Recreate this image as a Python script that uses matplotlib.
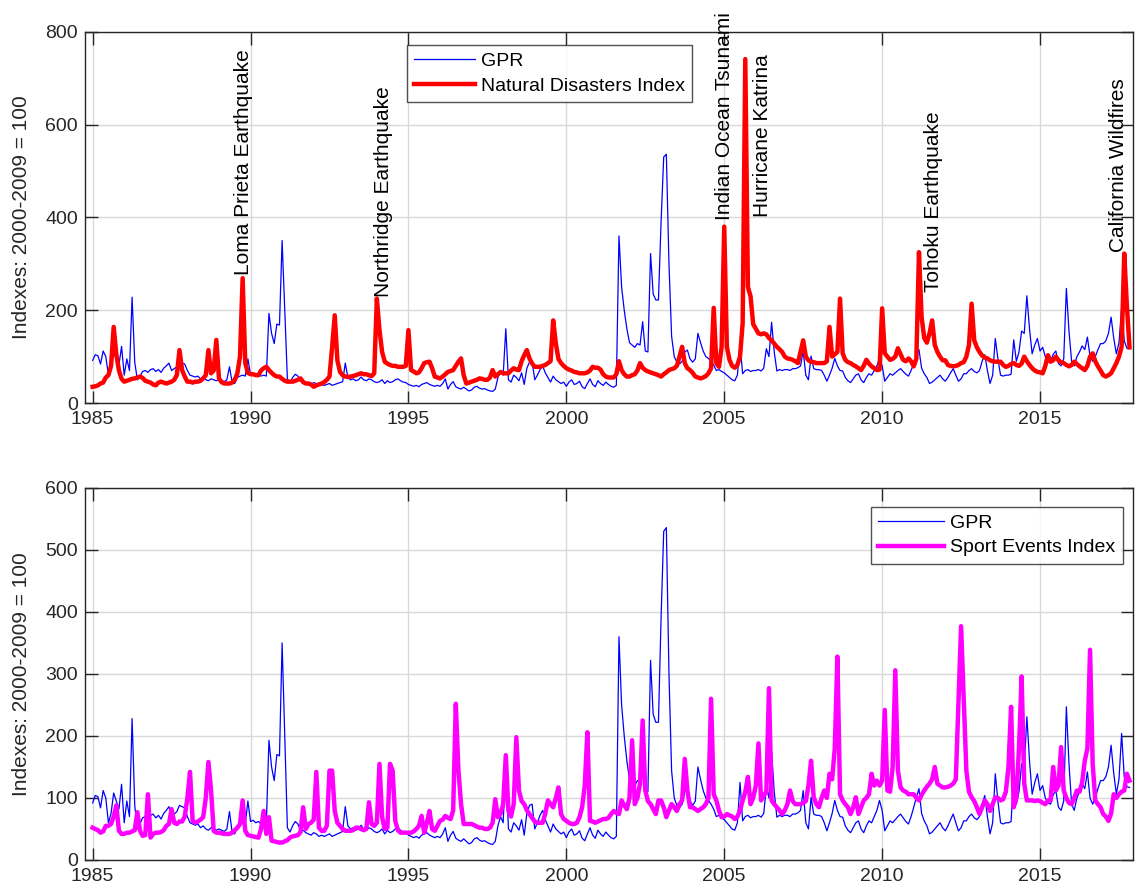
import numpy as np
import matplotlib
matplotlib.use("Agg")
import matplotlib.pyplot as plt

plt.rcParams['font.family'] = ['Liberation Sans', 'DejaVu Sans']

# monthly values, Jan 1985 - Nov 2017
gpr = [
    92, 104, 102, 84, 112, 100, 60, 75, 108, 95, 82, 122,      # 1985
    60, 95, 70, 228, 88, 50, 58, 68, 70, 66, 72, 74,           # 1986
    68, 72, 66, 75, 80, 86, 70, 74, 78, 88, 86, 84,            # 1987
    70, 60, 58, 56, 58, 52, 55, 50, 48, 52, 50, 48,            # 1988
    50, 48, 46, 50, 78, 45, 42, 55, 58, 60, 58, 95,            # 1989
    62, 64, 60, 62, 58, 60, 58, 193, 150, 128, 170, 168,       # 1990
    350, 200, 52, 45, 55, 62, 58, 48, 48, 44, 42, 40,          # 1991
    44, 42, 38, 40, 38, 40, 42, 38, 40, 42, 44, 46,            # 1992
    86, 55, 50, 52, 48, 50, 56, 50, 48, 52, 50, 46,            # 1993
    44, 46, 50, 42, 48, 44, 46, 50, 52, 48, 45, 44,            # 1994
    40, 38, 36, 38, 35, 40, 42, 44, 40, 38, 36, 38,            # 1995
    36, 42, 52, 30, 40, 46, 35, 32, 30, 34, 30, 26,            # 1996
    28, 34, 36, 32, 30, 31, 28, 26, 25, 30, 55, 70,            # 1997
    60, 160, 50, 45, 60, 55, 48, 65, 40, 75, 88, 90,           # 1998
    50, 60, 72, 80, 65, 55, 45, 58, 50, 46, 42, 45,            # 1999
    36, 45, 50, 40, 42, 47, 35, 31, 42, 52, 40, 35,            # 2000
    48, 42, 38, 45, 40, 36, 34, 38, 360, 250, 200, 160,        # 2001
    130, 125, 120, 128, 125, 175, 112, 110, 322, 235, 222, 222,  # 2002
    390, 530, 536, 300, 144, 100, 88, 84, 90, 110, 114, 95,    # 2003
    88, 95, 150, 130, 112, 100, 96, 90, 82, 70, 72, 68,        # 2004
    65, 60, 55, 50, 48, 60, 125, 63, 70, 72, 68, 70,           # 2005
    70, 72, 69, 75, 117, 100, 174, 110, 69, 72, 70, 72,        # 2006
    72, 70, 74, 74, 76, 80, 112, 60, 50, 101, 74, 72,          # 2007
    72, 70, 60, 47, 60, 75, 96, 80, 70, 69, 55, 48,            # 2008
    44, 52, 60, 63, 50, 44, 55, 63, 60, 70, 80, 96,            # 2009
    80, 47, 55, 63, 60, 65, 70, 74, 68, 62, 58, 70,            # 2010
    85, 101, 115, 75, 63, 55, 42, 45, 50, 55, 60, 52,          # 2011
    47, 55, 65, 74, 60, 47, 52, 63, 63, 70, 74, 68,            # 2012
    65, 70, 90, 104, 70, 42, 60, 139, 95, 60, 58, 60,          # 2013
    60, 62, 136, 90, 110, 155, 150, 231, 160, 106, 125, 139,   # 2014
    112, 120, 100, 92, 90, 105, 112, 85, 80, 95, 247, 155,     # 2015
    90, 80, 100, 110, 123, 115, 142, 100, 90, 100, 115, 128,   # 2016
    128, 134, 150, 185, 140, 106, 130, 204, 134, 118, 117,     # 2017
]

natural = [
    35, 36, 38, 42, 44, 55, 60, 80, 164, 105, 70, 52,          # 1985
    46, 48, 50, 52, 53, 55, 57, 54, 48, 46, 44, 40,            # 1986
    38, 44, 46, 44, 42, 44, 46, 50, 60, 114, 71, 57,           # 1987
    46, 46, 44, 46, 46, 48, 53, 60, 114, 64, 70, 136,          # 1988
    53, 45, 42, 42, 42, 44, 50, 64, 100, 269, 86, 65,          # 1989
    62, 62, 60, 60, 70, 75, 78, 71, 65, 60, 57, 57,            # 1990
    52, 48, 46, 46, 46, 48, 50, 53, 45, 42, 42, 40,            # 1991
    35, 38, 40, 42, 45, 50, 57, 120, 189, 92, 67, 60,          # 1992
    57, 56, 57, 58, 60, 62, 64, 62, 62, 60, 58, 64,            # 1993
    225, 157, 110, 89, 85, 82, 80, 80, 78, 78, 78, 80,         # 1994
    157, 71, 68, 64, 66, 75, 86, 88, 89, 75, 57, 55,           # 1995
    53, 57, 62, 67, 69, 71, 80, 89, 96, 60, 42, 44,            # 1996
    46, 48, 50, 53, 52, 50, 50, 55, 71, 57, 62, 67,            # 1997
    64, 64, 64, 70, 75, 72, 71, 90, 103, 114, 96, 85,          # 1998
    78, 78, 78, 80, 82, 86, 90, 178, 129, 95, 86, 80,          # 1999
    75, 72, 70, 67, 66, 64, 64, 64, 66, 70, 78, 76,            # 2000
    76, 72, 62, 57, 55, 55, 55, 62, 90, 71, 62, 57,            # 2001
    57, 60, 62, 70, 86, 76, 71, 68, 66, 64, 62, 60,            # 2002
    57, 62, 66, 71, 73, 75, 80, 100, 121, 86, 75, 71,          # 2003
    65, 57, 55, 53, 55, 58, 64, 75, 205, 86, 78, 120,          # 2004
    380, 121, 93, 80, 76, 82, 100, 172, 741, 250, 230, 170,    # 2005
    160, 150, 148, 150, 148, 140, 135, 128, 121, 116, 110, 100,  # 2006
    96, 95, 93, 90, 86, 110, 135, 100, 92, 89, 88, 86,         # 2007
    86, 86, 86, 90, 164, 100, 105, 110, 225, 107, 93, 88,      # 2008
    86, 82, 79, 75, 71, 80, 93, 85, 79, 75, 71, 72,            # 2009
    204, 107, 100, 93, 95, 100, 118, 105, 93, 90, 96, 90,      # 2010
    79, 95, 325, 185, 140, 130, 150, 178, 125, 110, 100, 92,   # 2011
    92, 82, 80, 79, 80, 82, 86, 88, 100, 125, 214, 135,        # 2012
    120, 110, 102, 98, 96, 92, 90, 89, 89, 89, 82, 78,         # 2013
    80, 84, 86, 82, 80, 85, 100, 90, 82, 75, 70, 67,           # 2014
    66, 64, 80, 103, 89, 92, 100, 92, 88, 86, 82, 79,          # 2015
    82, 89, 84, 79, 75, 71, 80, 100, 107, 90, 79, 70,          # 2016
    60, 57, 60, 64, 75, 86, 100, 121, 322, 210, 120,           # 2017
]

sport = [
    52, 50, 48, 44, 46, 55, 55, 58, 70, 88, 47, 42,            # 1985
    42, 44, 44, 46, 48, 77, 47, 39, 40, 106, 36, 42,           # 1986
    44, 44, 45, 48, 55, 58, 82, 60, 58, 62, 62, 70,            # 1987
    100, 142, 63, 60, 62, 65, 69, 100, 158, 112, 47, 44,       # 1988
    44, 43, 42, 42, 42, 44, 48, 52, 58, 96, 47, 40,            # 1989
    39, 38, 37, 36, 50, 79, 42, 69, 31, 30, 29, 28,            # 1990
    28, 30, 32, 36, 38, 39, 40, 45, 85, 50, 58, 60,            # 1991
    65, 142, 52, 47, 47, 55, 144, 144, 79, 60, 55, 50,         # 1992
    47, 47, 47, 48, 52, 52, 50, 48, 50, 93, 58, 55,            # 1993
    60, 155, 69, 50, 52, 155, 144, 63, 48, 44, 44, 44,         # 1994
    44, 44, 46, 50, 55, 71, 44, 60, 79, 50, 47, 55,            # 1995
    63, 65, 71, 68, 66, 80, 252, 144, 90, 58, 58, 58,          # 1996
    58, 56, 54, 52, 52, 50, 50, 52, 60, 98, 69, 75,            # 1997
    90, 169, 79, 70, 90, 198, 112, 95, 90, 80, 74, 68,         # 1998
    62, 60, 60, 60, 75, 96, 90, 85, 100, 117, 74, 66,          # 1999
    63, 60, 58, 58, 60, 69, 85, 120, 206, 63, 62, 60,          # 2000
    62, 64, 66, 66, 68, 74, 79, 76, 74, 96, 88, 82,            # 2001
    100, 193, 90, 100, 123, 225, 112, 95, 90, 82, 74, 96,      # 2002
    96, 85, 69, 80, 90, 85, 79, 90, 96, 163, 112, 85,          # 2003
    85, 82, 79, 82, 85, 90, 100, 260, 106, 96, 80, 69,         # 2004
    70, 74, 72, 70, 66, 70, 80, 96, 110, 134, 90, 100,         # 2005
    120, 188, 96, 104, 110, 277, 96, 90, 85, 80, 74, 80,       # 2006
    90, 112, 95, 90, 90, 90, 92, 95, 120, 160, 101, 90,        # 2007
    85, 100, 112, 100, 139, 130, 180, 328, 106, 96, 90, 85,    # 2008
    74, 85, 101, 74, 85, 96, 100, 106, 139, 120, 128, 120,     # 2009
    128, 242, 112, 110, 150, 306, 144, 117, 112, 110, 106, 106,  # 2010
    106, 100, 96, 105, 112, 118, 123, 130, 150, 123, 120, 117,  # 2011
    117, 118, 120, 123, 130, 252, 377, 260, 144, 110, 101, 95,  # 2012
    85, 74, 85, 96, 90, 79, 90, 101, 100, 96, 98, 110,         # 2013
    150, 247, 85, 100, 180, 296, 123, 96, 96, 96, 95, 96,      # 2014
    95, 92, 90, 96, 96, 150, 112, 120, 182, 112, 100, 92,      # 2015
    90, 100, 112, 110, 125, 160, 180, 339, 155, 96, 90, 85,    # 2016
    74, 70, 63, 75, 106, 100, 106, 110, 112, 139, 128,         # 2017
]

events = ["Loma Prieta Earthquake", "Northridge Earthquake", "Indian Ocean Tsunami",
          "Hurricane Katrina", "Tohoku Earthquake", "California Wildfires"]
event_x = [1989.77, 1994.2, 2005.0, 2006.2, 2011.63, 2017.47]
event_y = [275, 229, 394, 401, 239, 325]

dates = 1985 + np.arange(len(gpr)) / 12.0

fig = plt.figure(figsize=(11.37, 8.93), dpi=100)
ax1 = fig.add_axes([0.0748, 0.5487, 0.9213, 0.4158])
ax2 = fig.add_axes([0.0748, 0.0370, 0.9213, 0.4166])

for ax in (ax1, ax2):
    ax.grid(True, color='#d9d9d9', linewidth=1)
    ax.set_axisbelow(True)
    ax.set_xlim(1984.76, 2017.93)
    ax.set_xticks(range(1985, 2016, 5))
    ax.tick_params(direction='in', length=9, width=1, top=True, right=True,
                   labelsize=14, colors='#262626')
    ax.tick_params(axis='x', pad=6)
    ax.tick_params(axis='y', pad=5)
    for s in ax.spines.values():
        s.set_color('#262626')
        s.set_linewidth(1)
    ax.set_ylabel('Indexes: 2000-2009 = 100', fontsize=15, color='#262626', labelpad=10)

ax1.plot(dates, gpr, color='blue', linewidth=0.9, label='GPR')
ax1.plot(dates, natural, color='red', linewidth=3.2, label='Natural Disasters Index')
ax1.set_ylim(0, 800)
ax1.set_yticks(range(0, 801, 200))
for name, ex, ey in zip(events, event_x, event_y):
    ax1.text(ex, ey, name, rotation=90, ha='center', va='bottom', fontsize=15,
             color='black', clip_on=False)
leg1 = ax1.legend(loc='upper left', bbox_to_anchor=(0.307, 0.965), fontsize=14,
                  handlelength=3.1, frameon=True, fancybox=False, edgecolor='#262626',
                  borderpad=0.4, labelspacing=0.35, handletextpad=0.3, borderaxespad=0)
leg1.get_frame().set_linewidth(1)

ax2.plot(dates, gpr, color='blue', linewidth=0.9, label='GPR')
ax2.plot(dates, sport, color='magenta', linewidth=3.2, label='Sport Events Index')
ax2.set_ylim(0, 600)
ax2.set_yticks(range(0, 601, 100))
leg2 = ax2.legend(loc='upper right', bbox_to_anchor=(0.991, 0.95), fontsize=14,
                  handlelength=3.4, frameon=True, fancybox=False, edgecolor='#262626',
                  borderpad=0.4, labelspacing=0.35, handletextpad=0.3, borderaxespad=0)
leg2.get_frame().set_linewidth(1)

fig.savefig('out.png', dpi=100)
